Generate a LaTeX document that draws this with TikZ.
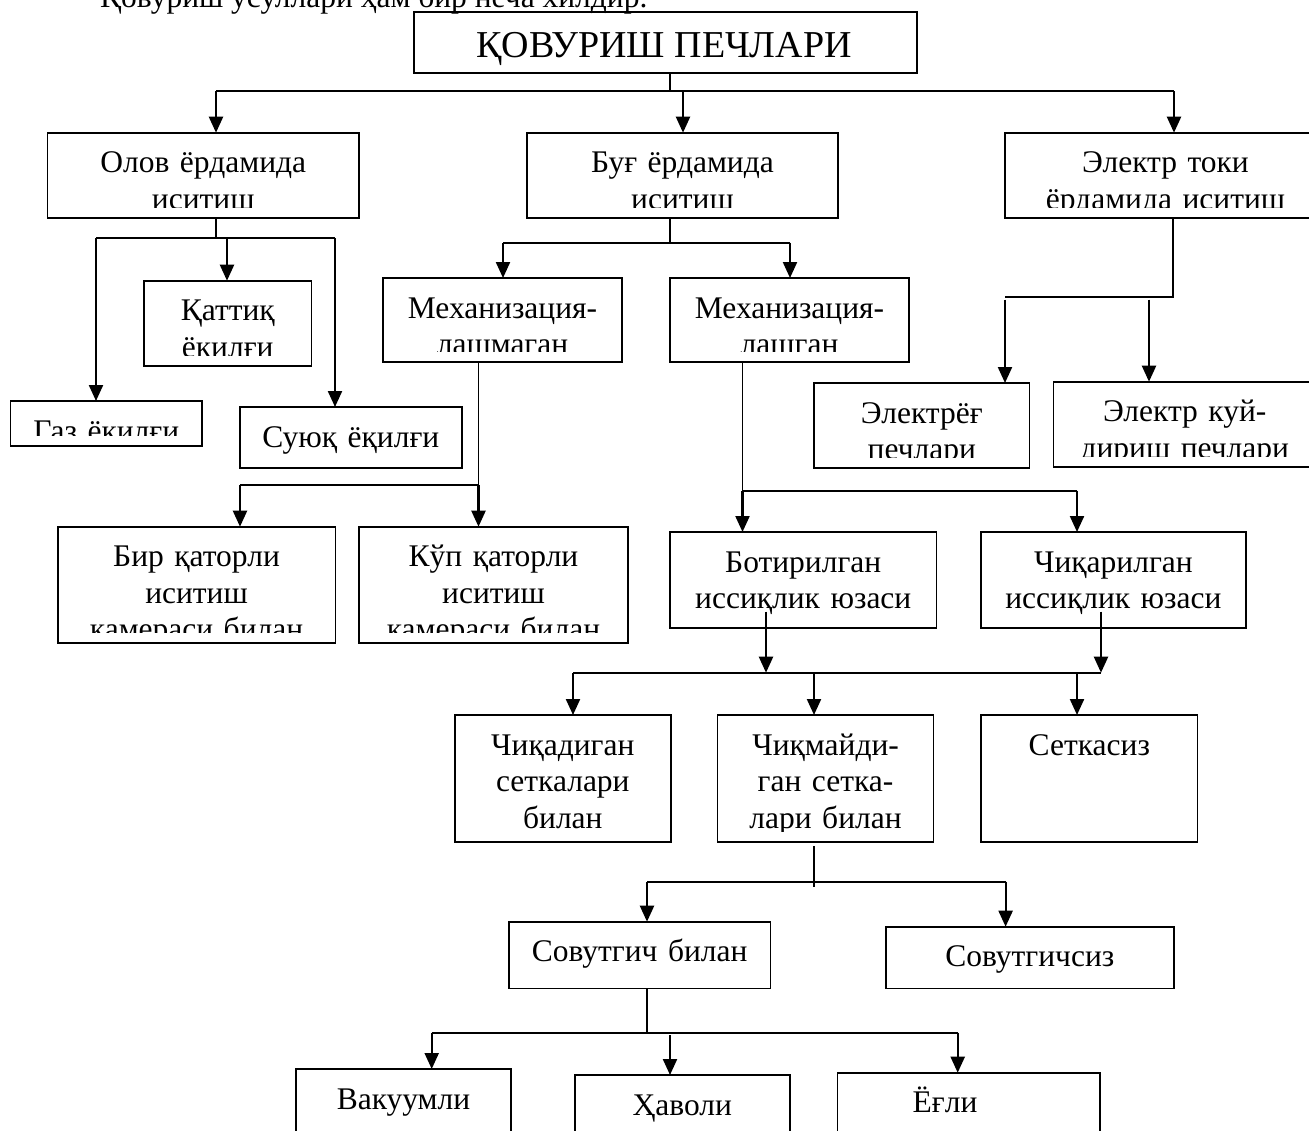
\documentclass[tikz,border=0pt]{standalone}
\usepackage{fontspec}
\setmainfont{Liberation Serif}
\usetikzlibrary{arrows.meta}

\tikzset{
  box/.style={draw, line width=1.6pt, inner sep=0pt, outer sep=0pt},
  label text/.style={font=\fontsize{31.5pt}{36.5pt}\selectfont, align=center,
    text width=300pt, inner sep=0pt},
  title text/.style={font=\fontsize{38pt}{42pt}\selectfont, inner sep=0pt},
  stem/.style={line width=1.3pt},
  bus/.style={line width=1.8pt},
  arr/.style={line width=2.2pt, -{Triangle[length=16pt,width=14pt]}},
}

% #1 text x-shift, #2 name, #3 left, #4 top, #5 right, #6 bottom, #7 text
% The text sits 40pt below the top edge and is cut 10.5pt above the bottom edge.
\newcommand{\flowbox}[7][0]{%
  \node[box, minimum width={(#5)-(#3)}, minimum height={(#6)-(#4)}] (#2)
    at ({((#3)+(#5))/2},{((#4)+(#6))/2}) {};
  \begin{scope}
    \clip (#3,#4) rectangle (#5,#6-10.5);
    \node[label text, anchor=base] (#2-text) at ({((#3)+(#5))/2+(#1)},{(#4)+40}) {#7};
  \end{scope}}

\begin{document}
\begin{tikzpicture}[x=1pt, y=-1pt]
  \clip (0,0) rectangle (1309,1130);
  \fill[white] (0,0) rectangle (1309,1130);

  % line of running text above the chart
  \node[label text, text width=, align=left, anchor=base west] (intro) at (100,7)
    {Қовуриш усуллари ҳам бир неча хилдир.};

  % root
  \node[box, minimum width=503pt, minimum height=61pt] (T) at (665.5,42.5) {};
  \node[title text, anchor=base] (T-text) at (664,57) {ҚОВУРИШ ПЕЧЛАРИ};

  % heating methods
  \flowbox{O}{47.5}{132.7}{359}{217.7}{Олов ёрдамида\\иситиш}
  \flowbox{B}{527}{132.7}{838}{218}{Буғ ёрдамида\\иситиш}
  \flowbox[5]{E}{1005}{132.7}{1316}{218}{Электр токи\\ёрдамида иситиш}

  % fuels
  \flowbox{K}{144}{280.7}{311.5}{365.7}{Қаттиқ\\ёкилғи}
  \flowbox{G}{10.5}{401}{202}{445.7}{Газ ёкилғи}
  \flowbox{S}{240}{407}{461.7}{468}{Суюқ ёқилғи}

  % steam heated
  \flowbox{M1}{383}{278}{622}{362}{Механизация-\\лашмаган}
  \flowbox{M2}{670}{278}{909}{362}{Механизация-\\лашган}

  % electric
  \flowbox{EY}{814}{383}{1029.6}{467.7}{Электрёғ\\печлари}
  \flowbox[0]{EK}{1053.5}{381.7}{1316}{467}{Электр куй-\\дириш печлари}

  % chambers
  \flowbox{BQ}{57.7}{526.7}{335.4}{643}{Бир қаторли\\иситиш\\камераси билан}
  \flowbox{KQ}{359}{526.7}{628}{643}{Кўп қаторли\\иситиш\\камераси билан}

  % heating surface
  \flowbox{BT}{670}{532}{936.5}{628}{Ботирилган\\иссиқлик юзаси}
  \flowbox{CH}{981}{532}{1245.8}{628}{Чиқарилган\\иссиқлик юзаси}

  % grids
  \flowbox{CQ}{455}{715}{670.7}{841.7}{Чиқадиган\\сеткалари\\билан}
  \flowbox{CM}{717.6}{715}{933.5}{841.7}{Чиқмайди-\\ган сетка-\\лари билан}
  \flowbox{SK}{981}{715}{1197.6}{841.7}{Сеткасиз}

  % cooling
  \flowbox{SB}{508.8}{921.7}{770.5}{988.3}{Совутгич билан}
  \flowbox{SS}{885.7}{926.7}{1174}{988.3}{Совутгичсиз}

  % cooling kinds
  \flowbox{VK}{296}{1069}{511}{1145}{Вакуумли}
  \flowbox{HV}{574.7}{1075}{790}{1145}{Ҳаволи}
  \flowbox[-23.75]{YG}{837.5}{1072.7}{1100}{1145}{Ёғли}

  % ---- connectors ----
  % root -> methods
  \coordinate (t-j) at (670,91);
  \coordinate (t-l) at (216,91);
  \coordinate (t-m) at (683,91);
  \coordinate (t-r) at (1174,91);
  \draw[stem] (t-j |- T.south) -- (t-j);
  \draw[bus] (t-l) -- (t-r);
  \draw[arr] (t-l) -- (t-l |- O.north);
  \draw[arr] (t-m) -- (t-m |- B.north);
  \draw[arr] (t-r) -- (t-r |- E.north);

  % fire -> fuels
  \coordinate (o-j) at (216,238.3);
  \coordinate (o-l) at (96,238.3);
  \coordinate (o-m) at (227,238.3);
  \coordinate (o-r) at (335,238.3);
  \draw[stem] (o-j |- O.south) -- (o-j);
  \draw[bus] (o-l) -- (o-r);
  \draw[arr] (o-l) -- (o-l |- G.north);
  \draw[arr] (o-m) -- (o-m |- K.north);
  \draw[arr] (o-r) -- (o-r |- S.north);

  % steam -> mechanisation
  \coordinate (b-j) at (670,242.7);
  \coordinate (b-l) at (503,242.7);
  \coordinate (b-r) at (790,242.7);
  \draw[stem] (b-j |- B.south) -- (b-j);
  \draw[bus] (b-l) -- (b-r);
  \draw[arr] (b-l) -- (b-l |- M1.north);
  \draw[arr] (b-r) -- (b-r |- M2.north);

  % electric -> furnaces
  \coordinate (e-j) at (1173,296.7);
  \coordinate (e-l) at (1005,296.7);
  \coordinate (e-m) at (1149,296.7);
  \coordinate (e-la) at (1005,299.5);
  \coordinate (e-ma) at (1149,299.5);
  \draw[bus] (e-j |- E.south) -- (e-j) -- (e-l);
  \draw[arr] (e-la) -- (e-la |- EY.north);
  \draw[arr] (e-ma) -- (e-ma |- EK.north);

  % non-mechanised -> chambers
  \coordinate (m1-j) at (478.5,485);
  \coordinate (m1-l) at (240,485);
  \draw[stem] (m1-j |- M1.south) -- (m1-j);
  \draw[bus] (m1-l) -- (m1-j);
  \draw[arr] (m1-l) -- (m1-l |- BQ.north);
  \draw[arr] (m1-j) -- (m1-j |- KQ.north);

  % mechanised -> heating surface
  \coordinate (m2-j) at (742.5,490.7);
  \coordinate (m2-r) at (1077,490.7);
  \draw[stem] (m2-j |- M2.south) -- (m2-j);
  \draw[bus] (m2-j) -- (m2-r);
  \draw[arr] (m2-j) -- (m2-j |- BT.north);
  \draw[arr] (m2-r) -- (m2-r |- CH.north);

  % heating surface -> grids
  \coordinate (bt-s) at (766,611.7);
  \coordinate (ch-s) at (1101,611.7);
  \coordinate (h-l) at (573,672.7);
  \coordinate (h-a) at (766,672.7);
  \coordinate (h-m) at (814,672.7);
  \coordinate (h-r) at (1077,672.7);
  \coordinate (h-e) at (1101,672.7);
  \draw[arr] (bt-s) -- (h-a);
  \draw[arr] (ch-s) -- (h-e);
  \draw[bus] (h-l) -- (h-e);
  \draw[arr] (h-l) -- (h-l |- CQ.north);
  \draw[arr] (h-m) -- (h-m |- CM.north);
  \draw[arr] (h-r) -- (h-r |- SK.north);

  % fixed grids -> cooling
  \coordinate (c-top) at (814,846);
  \coordinate (c-bot) at (814,886.7);
  \coordinate (c-l) at (647,881.7);
  \coordinate (c-r) at (1005.6,881.7);
  \draw[stem] (c-top) -- (c-bot);
  \draw[bus] (c-l) -- (c-r);
  \draw[arr] (c-l) -- (c-l |- SB.north);
  \draw[arr] (c-r) -- (c-r |- SS.north);

  % with cooler -> kinds
  \coordinate (s-j) at (647,1032.7);
  \coordinate (s-l) at (431.7,1032.7);
  \coordinate (s-m) at (670,1035);
  \coordinate (s-r) at (957.7,1032.7);
  \draw[stem] (s-j |- SB.south) -- (s-j);
  \draw[bus] (s-l) -- (s-r);
  \draw[arr] (s-l) -- (s-l |- VK.north);
  \draw[arr] (s-m) -- (s-m |- HV.north);
  \draw[arr] (s-r) -- (s-r |- YG.north);
\end{tikzpicture}
\end{document}
